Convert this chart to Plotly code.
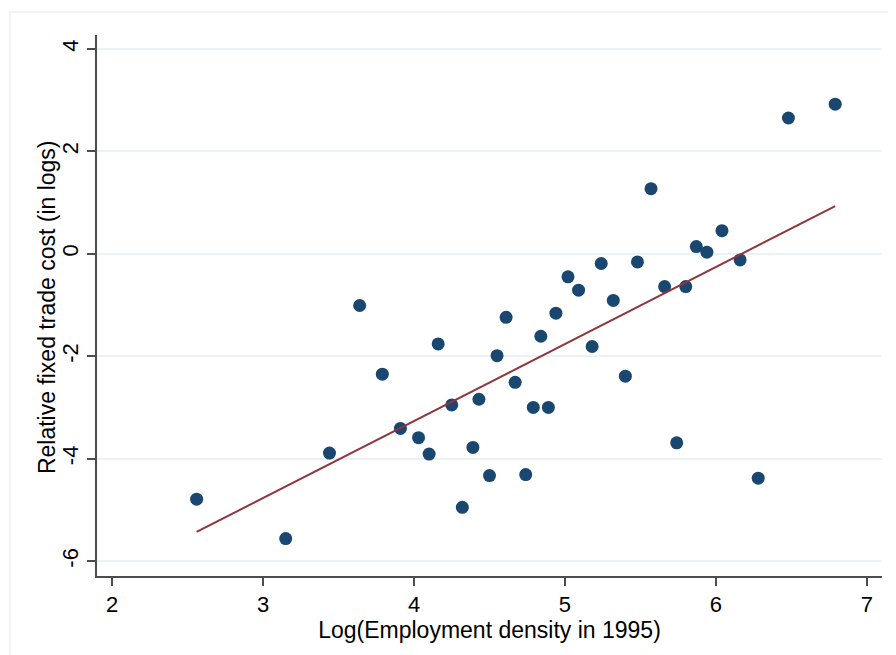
import plotly.graph_objects as go

# Scatter data
density = [2.56, 3.15, 3.44, 3.79, 4.16, 3.91, 4.03, 4.10, 4.25, 4.43,
           4.39, 4.32, 4.50, 4.55, 4.84, 4.67, 4.79, 4.89, 4.74, 5.18,
           5.40, 5.74, 6.28, 3.64, 4.61, 4.94, 5.02, 5.09, 5.24, 5.32,
           5.48, 5.57, 5.66, 5.80, 5.87, 5.94, 6.04, 6.16, 6.48, 6.79]
trade_cost = [-4.79, -5.56, -3.89, -2.35, -1.76, -3.41, -3.59, -3.91, -2.95, -2.84,
              -3.78, -4.95, -4.33, -1.99, -1.61, -2.51, -3.00, -3.00, -4.31, -1.81,
              -2.39, -3.69, -4.38, -1.01, -1.24, -1.16, -0.45, -0.71, -0.19, -0.91,
              -0.16, 1.27, -0.64, -0.64, 0.14, 0.03, 0.45, -0.12, 2.65, 2.92]

# Fitted line endpoints
fit_x = [2.56, 6.79]
fit_y = [-5.43, 0.93]

x_ticks = [2, 3, 4, 5, 6, 7]
y_ticks = [-6, -4, -2, 0, 2, 4]

FONT = "Liberation Sans, Arial, sans-serif"
AXIS_COL = "#4d4d4d"

fig = go.Figure()
fig.add_trace(go.Scatter(
    x=density, y=trade_cost, mode="markers",
    marker=dict(color="#1a476f", size=13, line=dict(width=0)),
    showlegend=False,
))
fig.add_trace(go.Scatter(
    x=fit_x, y=fit_y, mode="lines",
    line=dict(color="#90353b", width=2),
    showlegend=False,
))

fig.update_layout(
    width=888, height=647,
    margin=dict(l=89, r=14, t=27, b=79, autoexpand=False),
    paper_bgcolor="white", plot_bgcolor="white",
    font=dict(family=FONT, size=22, color="#000000"),
    xaxis=dict(
        range=[1.9, 7.1], tickvals=x_ticks, ticktext=[str(v) for v in x_ticks],
        showgrid=False, zeroline=False, automargin=False,
        showline=True, linecolor=AXIS_COL, linewidth=1.5,
        ticks="outside", ticklen=8, tickcolor=AXIS_COL, tickwidth=1.5,
        tickfont=dict(size=22),
        title=dict(text="Log(Employment density in 1995)", font=dict(size=23), standoff=2),
    ),
    yaxis=dict(
        range=[-6.29, 4.27], tickvals=y_ticks, ticktext=[str(v) for v in y_ticks],
        showgrid=True, gridcolor="#eaf2f3", gridwidth=1.5, zeroline=False, automargin=False,
        showline=True, linecolor=AXIS_COL, linewidth=1.5,
        ticks="outside", ticklen=8, tickcolor=AXIS_COL, tickwidth=1.5,
        tickangle=-90, tickfont=dict(size=22),
    ),
    annotations=[dict(
        text="Relative fixed trade cost (in logs)", xref="paper", yref="paper",
        x=-0.0637, y=0.497, xanchor="center", yanchor="middle", textangle=-90,
        showarrow=False, font=dict(size=23, family=FONT, color="#000000"),
    )],
    shapes=[dict(
        type="rect", xref="paper", yref="paper",
        x0=-0.1108, x1=1.2, y0=-0.3, y1=1.0425,
        line=dict(color="#eaf2f3", width=1.5), fillcolor="rgba(0,0,0,0)", layer="below",
    )],
)

fig.write_html("out.html")
